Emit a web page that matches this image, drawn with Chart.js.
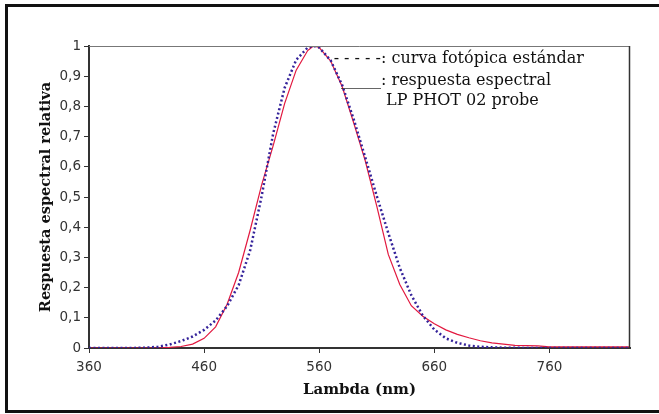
<!DOCTYPE html>
<html>
<head>
<meta charset="utf-8">
<script src="https://cdn.jsdelivr.net/npm/chart.js@4/dist/chart.umd.min.js"></script>
<style>
  body { margin: 0; background: #fff; }
  #wrap { width: 659px; height: 414px; }
</style>
</head>
<body>
<div id="wrap"><canvas id="spectralChart" width="659" height="414"></canvas></div>
<script>
// Wavelengths (nm)
const wavelengths = [360, 370, 380, 390, 400, 410, 420, 430, 440, 450,
  460, 470, 480, 490, 500, 510, 520, 530, 540, 550, 555, 560, 570, 580, 590,
  600, 610, 620, 630, 640, 650, 660, 670, 680, 690, 700, 710, 720, 730, 740,
  750, 760, 770, 780, 790, 800, 810, 820, 830];

// Standard photopic curve (dotted)
const photopicValues = [0, 0, 0, 0.0001, 0.0004, 0.0012, 0.004, 0.0116, 0.023, 0.038,
  0.06, 0.091, 0.139, 0.208, 0.323, 0.503, 0.71, 0.862, 0.954, 0.995, 1.0, 0.995, 0.952, 0.87, 0.757,
  0.631, 0.503, 0.381, 0.265, 0.175, 0.107, 0.061, 0.032, 0.017, 0.0082, 0.0041, 0.0021, 0.001, 0.0005, 0.0003,
  0.0001, 0, 0, 0, 0, 0, 0, 0, 0];

// LP PHOT 02 probe spectral response (solid)
const probeValues = [0, 0, 0, 0, 0, 0, 0, 0.002, 0.005, 0.013,
  0.032, 0.07, 0.145, 0.25, 0.39, 0.54, 0.67, 0.81, 0.92, 0.985, 1.0, 0.995, 0.95, 0.865, 0.745,
  0.62, 0.47, 0.31, 0.21, 0.14, 0.105, 0.08, 0.06, 0.045, 0.034, 0.024, 0.017, 0.013, 0.009, 0.008,
  0.007, 0.004, 0.004, 0.004, 0.004, 0.004, 0.004, 0.004, 0.004];

const xTicks = [360, 460, 560, 660, 760];

const legendLines = [
  { prefix: '- - - - -', text: ': curva fotópica estándar' },
  { prefix: '_____', text: ': respuesta espectral' },
  { prefix: '', text: 'LP PHOT 02 probe' }
];

const serif = '"DejaVu Serif", serif';
const sans = '"DejaVu Sans", sans-serif';

// Outer frame, plot box and text legend
const decorPlugin = {
  id: 'decor',
  beforeDraw(chart) {
    const ctx = chart.ctx;
    ctx.save();
    ctx.fillStyle = '#fff';
    ctx.fillRect(0, 0, chart.width, chart.height);
    ctx.strokeStyle = '#111';
    ctx.lineWidth = 3;
    ctx.beginPath();
    ctx.moveTo(659, 5.5);
    ctx.lineTo(6.5, 5.5);
    ctx.lineTo(6.5, 411.5);
    ctx.lineTo(659, 411.5);
    ctx.stroke();
    ctx.restore();
  },
  afterDraw(chart) {
    const ctx = chart.ctx;
    const a = chart.chartArea;
    ctx.save();
    ctx.strokeStyle = '#777';
    ctx.lineWidth = 1;
    ctx.beginPath();
    ctx.moveTo(a.left, a.top + 0.5);
    ctx.lineTo(a.right - 0.5, a.top + 0.5);
    ctx.stroke();
    ctx.strokeStyle = '#333';
    ctx.lineWidth = 1.5;
    ctx.beginPath();
    ctx.moveTo(a.right - 0.5, a.top);
    ctx.lineTo(a.right - 0.5, a.bottom);
    ctx.stroke();

    ctx.fillStyle = '#111';
    ctx.font = '16px ' + serif;
    ctx.textBaseline = 'alphabetic';
    const colonX = 381;
    const baselines = [63, 85, 105];
    legendLines.forEach((line, i) => {
      if (line.prefix) {
        ctx.textAlign = 'right';
        ctx.fillText(line.prefix, colonX, baselines[i]);
        ctx.textAlign = 'left';
        ctx.fillText(line.text, colonX, baselines[i]);
      } else {
        ctx.textAlign = 'left';
        ctx.fillText(line.text, 386, baselines[i]);
      }
    });
    ctx.restore();
  }
};

const ctx = document.getElementById('spectralChart').getContext('2d');
new Chart(ctx, {
  type: 'line',
  data: {
    datasets: [{
      label: 'curva fotópica estándar',
      data: wavelengths.map((w, i) => ({ x: w, y: photopicValues[i] })),
      borderColor: '#34229a',
      borderWidth: 2.5,
      borderDash: [2, 2.5],
      pointRadius: 0,
      tension: 0,
      fill: false
    }, {
      label: 'respuesta espectral LP PHOT 02 probe',
      data: wavelengths.map((w, i) => ({ x: w, y: probeValues[i] })),
      borderColor: '#e2183f',
      borderWidth: 1.2,
      pointRadius: 0,
      tension: 0,
      fill: false
    }]
  },
  options: {
    responsive: false,
    animation: false,
    devicePixelRatio: 1,
    layout: { padding: { top: 46, right: 29, left: 0, bottom: 0 } },
    plugins: {
      legend: { display: false },
      tooltip: { enabled: false }
    },
    scales: {
      x: {
        type: 'linear',
        min: 360,
        max: 830,
        afterBuildTicks: scale => { scale.ticks = xTicks.map(v => ({ value: v })); },
        afterFit: scale => { scale.height = 66; },
        grid: { drawOnChartArea: false, drawTicks: true, tickLength: 5, color: '#333' },
        border: { color: '#333', width: 2 },
        ticks: { font: { family: sans, size: 13.5 }, color: '#333', padding: 6, maxRotation: 0 },
        title: {
          display: true,
          text: 'Lambda (nm)',
          font: { family: serif, size: 15, weight: 'bold' },
          color: '#111',
          padding: { top: 0, bottom: 15 }
        }
      },
      y: {
        min: 0,
        max: 1,
        afterFit: scale => { scale.width = 89; },
        grid: { drawOnChartArea: false, drawTicks: true, tickLength: 5, color: '#333' },
        border: { color: '#333', width: 2 },
        ticks: {
          stepSize: 0.1,
          font: { family: sans, size: 13.5 },
          color: '#333',
          padding: 3,
          callback: v => (v === 0 || v === 1) ? String(v) : v.toFixed(1).replace('.', ',')
        },
        title: {
          display: true,
          text: 'Respuesta espectral relativa',
          font: { family: serif, size: 14.5, weight: 'bold' },
          color: '#111',
          padding: { top: 38, bottom: 0 }
        }
      }
    }
  },
  plugins: [decorPlugin]
});
</script>
</body>
</html>
